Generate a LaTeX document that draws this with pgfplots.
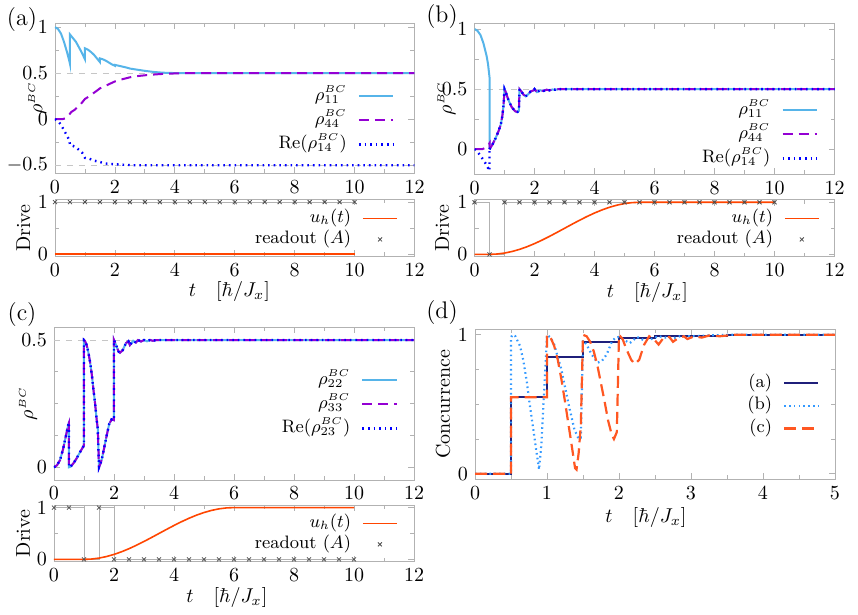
\documentclass[border=0pt]{standalone}
\usepackage{pgfplots}
\usepackage{pgfplotstable}
\pgfplotsset{compat=1.18}
\definecolor{cA}{HTML}{56B4E9}
\definecolor{cB}{HTML}{9400D3}
\definecolor{cC}{HTML}{0000FF}
\definecolor{cU}{HTML}{FF4500}
\definecolor{cNavy}{HTML}{1F1F7A}
\definecolor{cDot}{HTML}{3399FF}
\definecolor{cDash}{HTML}{FF5722}

\pgfplotsset{
  base/.style={scale only axis, axis line style={gray!60}, every tick/.style={gray!60},
    tick align=inside, major tick length=3pt, minor tick length=2pt,
    legend style={draw=none, fill=none, font=\small, inner sep=0pt,
      anchor=north east, /tikz/every odd column/.append style={column sep=5pt}},
    legend cell align=right, legend plot pos=right,
    ylabel style={anchor=center}, xlabel style={anchor=center}},
  mainleg/.style={legend style={row sep=1pt, nodes={inner sep=0.5pt, text height=7pt, text depth=3pt}}},
  driveleg/.style={legend style={row sep=0.5pt, nodes={inner sep=0.5pt, text height=6.5pt, text depth=2.5pt}}},
  r1/.style={cA, line width=1pt},
  r4/.style={cB, line width=1pt, dash pattern=on 5pt off 3pt},
  r14/.style={cC, line width=1.2pt, dash pattern=on 0.8pt off 2pt},
  uh/.style={cU, line width=0.8pt},
  ro/.style={only marks, mark=x, mark size=1.4pt, black!70},
  rol/.style={gray!60, thin, const plot},
  ref/.style={gray!45, dashed, thin},
}

\pgfplotstableread{
t v
0.5 0
0.6 0.04
0.7 0.09
0.8 0.15
0.88 0.21
0.93 0.28
0.97 0.37
1.0 0.5
1.05 0.47
1.13 0.41
1.24 0.35
1.36 0.315
1.43 0.31
1.48 0.32
1.5 0.5
1.55 0.485
1.63 0.455
1.7 0.44
1.78 0.455
1.87 0.48
1.97 0.49
2.0 0.5
2.08 0.475
2.19 0.49
2.3 0.485
2.4 0.495
2.5 0.49
2.6 0.497
2.7 0.495
2.8 0.5
12 0.5
}\commonB

\pgfplotstableread{
t v
0 0
0.1 0.008
0.2 0.028
0.3 0.07
0.4 0.125
0.48 0.17
0.5 0.176
0.5 0
0.55 0.002
0.65 0.016
0.75 0.034
0.87 0.06
0.97 0.08
1.0 0.085
1.0 0.5
1.03 0.497
1.09 0.48
1.14 0.455
1.2 0.415
1.26 0.365
1.31 0.31
1.37 0.25
1.42 0.19
1.46 0.15
1.5 0
1.55 0.015
1.6 0.035
1.67 0.075
1.76 0.127
1.84 0.17
1.92 0.188
2.0 0.185
2.0 0.5
2.07 0.48
2.15 0.455
2.2 0.45
2.29 0.46
2.4 0.488
2.48 0.495
2.53 0.48
2.64 0.497
2.73 0.49
2.8 0.5
2.9 0.494
3.0 0.5
3.1 0.495
3.2 0.5
3.3 0.497
3.4 0.5
12 0.5
}\curveC

\begin{document}
\begin{tikzpicture}
\useasboundingbox (0,0) rectangle (429pt,307.5pt);

% ---------------- (a) main
\begin{axis}[base, mainleg, at={(27.5pt,220.75pt)}, width=179.75pt, height=75.25pt,
  xmin=0, xmax=12, ymin=-0.59, ymax=1.045,
  xtick={0,2,...,12}, minor x tick num=1, ytick={-0.5,0,0.5,1}, minor y tick num=1,
  ylabel={$\rho^{\scriptscriptstyle BC}$},
  ylabel style={at={(axis description cs:-0.049,0.5)}},
  legend style={at={(axis description cs:0.945,0.588)}}]
\addplot[ref, forget plot] coordinates {(0,0.5) (12,0.5)};
\addplot[ref, forget plot] coordinates {(0,-0.5) (12,-0.5)};
\addplot[r1] coordinates {(0,1) (0.1,0.98) (0.2,0.93) (0.3,0.84) (0.4,0.73) (0.48,0.63) (0.5,0.60) (0.5,0.92) (0.6,0.88) (0.7,0.84) (0.8,0.78) (0.9,0.72) (0.97,0.67) (1.0,0.65) (1.0,0.77) (1.1,0.755) (1.2,0.73) (1.3,0.70) (1.4,0.66) (1.5,0.62) (1.5,0.66) (1.6,0.65) (1.7,0.635) (1.8,0.615) (1.9,0.595) (2.0,0.58) (2.0,0.59) (2.2,0.575) (2.4,0.56) (2.5,0.55) (2.7,0.54) (3.0,0.525) (3.3,0.513) (3.6,0.505) (4.0,0.501) (4.5,0.5) (12,0.5)};
\addlegendentry{$\rho_{11}^{\scriptscriptstyle BC}$}
\addplot[r4] coordinates {(0,0) (0.25,0) (0.35,0.01) (0.45,0.04) (0.5,0.06) (0.55,0.08) (0.65,0.1) (0.75,0.13) (0.85,0.16) (0.95,0.2) (1.0,0.22) (1.1,0.24) (1.25,0.275) (1.4,0.31) (1.5,0.335) (1.65,0.355) (1.8,0.38) (2.0,0.41) (2.2,0.43) (2.5,0.455) (2.8,0.47) (3.1,0.48) (3.5,0.49) (4.0,0.497) (4.5,0.5) (12,0.5)};
\addlegendentry{$\rho_{44}^{\scriptscriptstyle BC}$}
\addplot[r14] coordinates {(0,0) (0.1,-0.02) (0.2,-0.06) (0.3,-0.12) (0.4,-0.18) (0.48,-0.23) (0.5,-0.28) (0.6,-0.29) (0.75,-0.32) (0.9,-0.36) (1.0,-0.42) (1.15,-0.43) (1.3,-0.45) (1.5,-0.465) (1.65,-0.48) (2.0,-0.49) (2.3,-0.495) (2.6,-0.5) (12,-0.5)};
\addlegendentry{$\mathrm{Re}(\rho_{14}^{\scriptscriptstyle BC})$}
\end{axis}

% ---------------- (a) drive
\begin{axis}[base, driveleg, at={(27.5pt,179.25pt)}, width=179.75pt, height=28.5pt,
  xmin=0, xmax=12, ymin=-0.045, ymax=1.05,
  xtick={0,2,...,12}, minor x tick num=1, ytick={0,1}, minor y tick num=1,
  ylabel={Drive}, ylabel style={at={(axis description cs:-0.088,0.5)}},
  xlabel={$t\quad[\hbar/J_x]$}, xlabel style={at={(axis description cs:0.485,-0.62)}},
  legend style={at={(axis description cs:0.955,0.85)}}]
\addplot[rol, forget plot] coordinates {(0,1) (10,1)};
\addplot[uh] coordinates {(0,0) (10,0)};
\addlegendentry{$u_h(t)$}
\addplot[ro] coordinates {(0,1) (0.5,1) (1,1) (1.5,1) (2,1) (2.5,1) (3,1) (3.5,1) (4,1) (4.5,1) (5,1) (5.5,1) (6,1) (6.5,1) (7,1) (7.5,1) (8,1) (8.5,1) (9,1) (9.5,1) (10,1)};
\addlegendentry{readout $(A)$}
\end{axis}

% ---------------- (b) main
\begin{axis}[base, mainleg, at={(237.25pt,220.25pt)}, width=180pt, height=75.75pt,
  xmin=0, xmax=12, ymin=-0.21, ymax=1.05,
  xtick={0,2,...,12}, minor x tick num=1, ytick={0,0.5,1}, minor y tick num=1,
  ylabel={$\rho^{\scriptscriptstyle BC}$},
  ylabel style={at={(axis description cs:-0.078,0.5)}},
  legend style={at={(axis description cs:0.955,0.498)}}]
\addplot[ref, forget plot] coordinates {(0,0.5) (12,0.5)};
\addplot[r1] coordinates {(0,1) (0.1,0.985) (0.2,0.95) (0.3,0.88) (0.4,0.78) (0.45,0.71) (0.5,0.6) (0.5,0)};
\addlegendentry{$\rho_{11}^{\scriptscriptstyle BC}$}
\addplot[r4] coordinates {(0,0) (0.25,0) (0.35,0.01) (0.45,0.03) (0.5,0.05) (0.5,0)};
\addlegendentry{$\rho_{44}^{\scriptscriptstyle BC}$}
\addplot[r14] coordinates {(0,0) (0.1,-0.02) (0.2,-0.055) (0.3,-0.09) (0.4,-0.13) (0.5,-0.18) (0.5,0)};
\addlegendentry{$\mathrm{Re}(\rho_{14}^{\scriptscriptstyle BC})$}
\addplot[r1, forget plot] table {\commonB};
\addplot[r4, forget plot] table {\commonB};
\addplot[r14, forget plot] table {\commonB};
\end{axis}

% ---------------- (b) drive
\begin{axis}[base, driveleg, at={(237.25pt,179.15pt)}, width=180pt, height=28.5pt,
  xmin=0, xmax=12, ymin=-0.045, ymax=1.05,
  xtick={0,2,...,12}, minor x tick num=1, ytick={0,1}, minor y tick num=1,
  ylabel={Drive}, ylabel style={at={(axis description cs:-0.090,0.5)}},
  xlabel={$t\quad[\hbar/J_x]$}, xlabel style={at={(axis description cs:0.48,-0.62)}},
  legend style={at={(axis description cs:0.96,0.854)}}]
\addplot[rol, forget plot] coordinates {(0,1) (0.5,0) (1,1) (10,1)};
\addplot[uh] coordinates {(0,0) (0.5,0) (0.75,0.0062) (1.0,0.0245) (1.25,0.0545) (1.5,0.0955) (1.75,0.1464) (2.0,0.2061) (2.25,0.2730) (2.5,0.3455) (2.75,0.4218) (3.0,0.5) (3.25,0.5782) (3.5,0.6545) (3.75,0.7270) (4.0,0.7939) (4.25,0.8536) (4.5,0.9045) (4.75,0.9455) (5.0,0.9755) (5.25,0.9938) (5.5,1) (10,1)};
\addlegendentry{$u_h(t)$}
\addplot[ro] coordinates {(0,1) (0.5,0) (1,1) (1.5,1) (2,1) (2.5,1) (3,1) (3.5,1) (4,1) (4.5,1) (5,1) (5.5,1) (6,1) (6.5,1) (7,1) (7.5,1) (8,1) (8.5,1) (9,1) (9.5,1) (10,1)};
\addlegendentry{readout $(A)$}
\end{axis}

% ---------------- (c) main
\begin{axis}[base, mainleg, at={(27pt,67.5pt)}, width=180pt, height=76.35pt,
  xmin=0, xmax=12, ymin=-0.05, ymax=0.55,
  xtick={0,2,...,12}, minor x tick num=1, ytick={0,0.5}, minor y tick num=3,
  ylabel={$\rho^{\scriptscriptstyle BC}$},
  ylabel style={at={(axis description cs:-0.072,0.5)}},
  legend style={at={(axis description cs:0.956,0.727)}}]
\addplot[ref, forget plot] coordinates {(0,0.5) (12,0.5)};
\addplot[r1] table {\curveC};
\addlegendentry{$\rho_{22}^{\scriptscriptstyle BC}$}
\addplot[r4] table {\curveC};
\addlegendentry{$\rho_{33}^{\scriptscriptstyle BC}$}
\addplot[r14] table {\curveC};
\addlegendentry{$\mathrm{Re}(\rho_{23}^{\scriptscriptstyle BC})$}
\end{axis}

% ---------------- (c) drive
\begin{axis}[base, driveleg, at={(27pt,26.65pt)}, width=180pt, height=28.35pt,
  xmin=0, xmax=12, ymin=-0.045, ymax=1.05,
  xtick={0,2,...,12}, minor x tick num=1, ytick={0,1}, minor y tick num=1,
  ylabel={Drive}, ylabel style={at={(axis description cs:-0.086,0.5)}},
  xlabel={$t\quad[\hbar/J_x]$}, xlabel style={at={(axis description cs:0.48,-0.64)}},
  legend style={at={(axis description cs:0.956,0.86)}}]
\addplot[rol, forget plot] coordinates {(0,1) (0.5,1) (1,0) (1.5,1) (2,0) (10,0)};
\addplot[uh] coordinates {(0,0) (1.0,0) (1.25,0.0062) (1.5,0.0245) (1.75,0.0545) (2.0,0.0955) (2.25,0.1464) (2.5,0.2061) (2.75,0.2730) (3.0,0.3455) (3.25,0.4218) (3.5,0.5) (3.75,0.5782) (4.0,0.6545) (4.25,0.7270) (4.5,0.7939) (4.75,0.8536) (5.0,0.9045) (5.25,0.9455) (5.5,0.9755) (5.75,0.9938) (6.0,1) (10,1)};
\addlegendentry{$u_h(t)$}
\addplot[ro] coordinates {(0,1) (0.5,1) (1,0) (1.5,1) (2,0) (2.5,0) (3,0) (3.5,0) (4,0) (4.5,0) (5,0) (5.5,0) (6,0) (6.5,0) (7,0) (7.5,0) (8,0) (8.5,0) (9,0) (9.5,0) (10,0)};
\addlegendentry{readout $(A)$}
\end{axis}

% ---------------- (d)
\begin{axis}[base, mainleg, at={(237.5pt,67.85pt)}, width=180pt, height=75pt,
  xmin=0, xmax=5, ymin=-0.04, ymax=1.04,
  xtick={0,1,...,5}, minor x tick num=1, ytick={0,1}, minor y tick num=3,
  ylabel={Concurrence}, ylabel style={at={(axis description cs:-0.089,0.5)}},
  xlabel={$t\quad[\hbar/J_x]$}, xlabel style={at={(axis description cs:0.475,-0.258)}},
  legend style={row sep=0.25pt, at={(axis description cs:0.958,0.715)}}]
\addplot[cNavy, line width=1pt] coordinates {(0,0) (0.5,0) (0.5,0.55) (1.0,0.55) (1.0,0.84) (1.5,0.84) (1.5,0.945) (2.0,0.945) (2.0,0.978) (2.5,0.978) (2.5,0.99) (3.0,0.99) (3.0,0.995) (3.5,0.995) (3.5,1.0) (5,1.0)};
\addlegendentry{(a)}
\addplot[cDot, line width=1.1pt, dash pattern=on 0.8pt off 1.6pt] coordinates {(0,0) (0.5,0) (0.5,0.98) (0.52,1.0) (0.56,0.99) (0.625,0.92) (0.67,0.82) (0.72,0.66) (0.76,0.5) (0.81,0.32) (0.85,0.17) (0.89,0.03) (0.92,0.2) (0.96,0.6) (1.0,1.0) (1.05,0.98) (1.1,0.93) (1.2,0.75) (1.3,0.5) (1.38,0.32) (1.44,0.25) (1.47,0.26) (1.5,0.96) (1.55,0.93) (1.62,0.86) (1.7,0.80) (1.76,0.81) (1.83,0.86) (1.9,0.95) (1.95,0.98) (2.0,0.985) (2.08,0.96) (2.15,0.94) (2.25,0.985) (2.35,0.96) (2.45,0.97) (2.55,0.99) (2.65,0.98) (2.75,0.975) (2.85,0.99) (3.0,0.99) (3.2,0.995) (3.5,1.0) (5,1.0)};
\addlegendentry{(b)}
\addplot[cDash, line width=1.1pt, dash pattern=on 6pt off 3pt] coordinates {(0,0) (0.5,0) (0.5,0.55) (1.0,0.55) (1.0,1.0) (1.05,0.98) (1.1,0.92) (1.15,0.82) (1.2,0.68) (1.25,0.52) (1.3,0.35) (1.35,0.18) (1.39,0.04) (1.41,0.03) (1.44,0.15) (1.47,0.35) (1.5,1.0) (1.55,0.99) (1.6,0.95) (1.65,0.88) (1.7,0.78) (1.75,0.65) (1.8,0.52) (1.85,0.38) (1.9,0.28) (1.93,0.25) (1.97,0.3) (2.0,1.0) (2.05,0.97) (2.1,0.9) (2.17,0.82) (2.22,0.79) (2.28,0.82) (2.35,0.93) (2.42,0.99) (2.5,0.96) (2.55,0.93) (2.62,0.98) (2.7,0.985) (2.75,0.95) (2.82,0.975) (2.9,0.99) (2.95,0.97) (3.05,0.99) (3.15,0.98) (3.25,0.995) (3.4,0.99) (3.6,1.0) (5,1.0)};
\addlegendentry{(c)}
\end{axis}

\node[font=\large] at (11pt,297.5pt) {(a)};
\node[font=\large] at (221pt,299pt) {(b)};
\node[font=\large] at (11pt,150pt) {(c)};
\node[font=\large] at (221pt,151pt) {(d)};
\end{tikzpicture}
\end{document}
